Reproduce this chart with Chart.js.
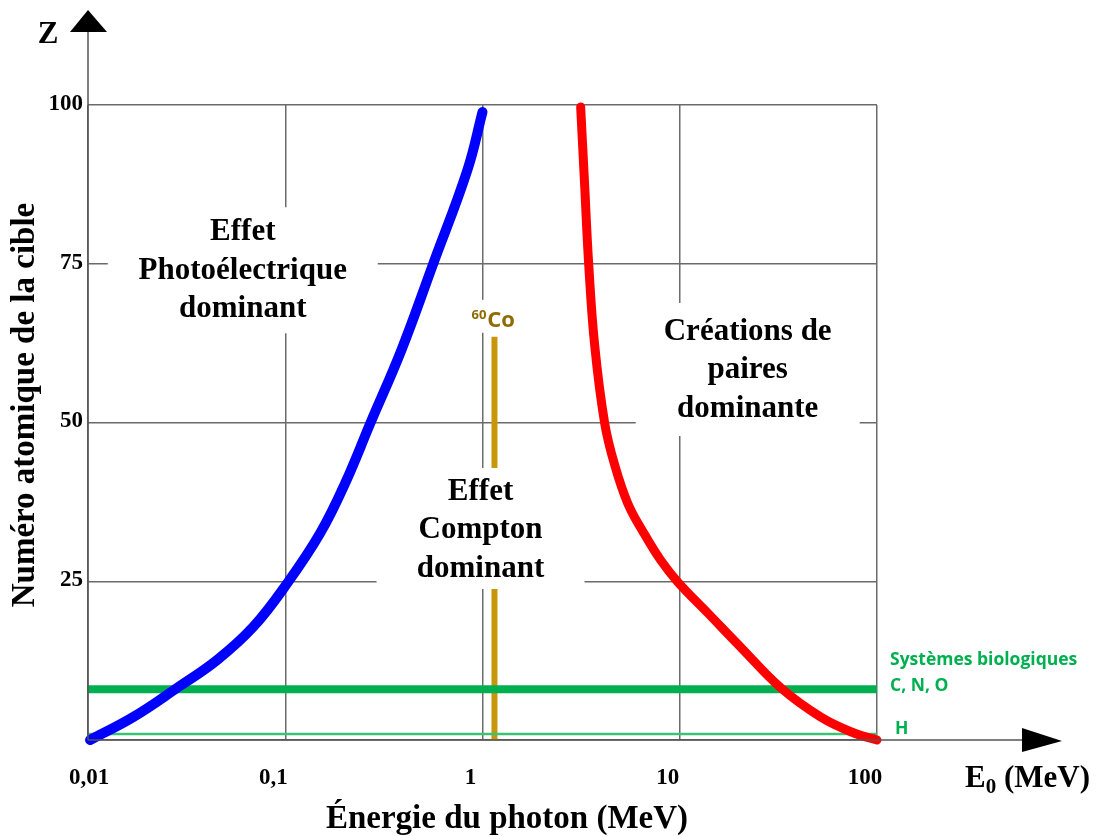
<!DOCTYPE html>
<html lang="fr">
<head>
<meta charset="utf-8">
<title>Interactions photon-matière</title>
<script src="https://cdn.jsdelivr.net/npm/chart.js@4"></script>
<style>
  html, body { margin: 0; padding: 0; background: #fff; }
  canvas { display: block; }
</style>
</head>
<body>
<canvas id="chart" width="1097" height="836"></canvas>
<script>
// Frontière photoélectrique / Compton (énergie en MeV, Z)
const photoEnergy = [0.01024, 0.01692, 0.0283, 0.04516, 0.0688, 0.1024, 0.1505, 0.2016, 0.2701, 0.388, 0.5641, 0.8393, 1.0];
const photoZ      = [0, 3.6, 8.2, 12.6, 17.8, 24.7, 32.6, 40.5, 49.9, 61.4, 75.1, 89.8, 98.9];

// Frontière Compton / création de paires
const pairEnergy = [3.145, 3.295, 3.452, 3.703, 4.163, 4.679, 5.445, 6.566, 8.009, 9.768, 13.87, 20.4, 32.56, 51.96, 76.4, 100];
const pairZ      = [99.7, 87.4, 75.1, 62.2, 49.9, 43.3, 37.3, 32.6, 28.3, 24.9, 20.0, 14.6, 8.2, 3.6, 1.1, 0];

// Systèmes biologiques
const bioEnergy = [0.01, 100];
const cnoZ = [8, 8];
const hZ = [0.95, 0.95];

// Raie du cobalt 60
const coEnergy = [1.15, 1.15];
const coZ = [0, 63.5];

// Axes
const xTickValues = [0.01, 0.1, 1, 10, 100];
const xTickLabels = ['0,01', '0,1', '1', '10', '100'];
const yTickValues = [25, 50, 75, 100];
const yTickLabels = ['25', '50', '75', '100'];

const SERIF = "'Liberation Serif', 'Times New Roman', serif";
const SANS = "'Open Sans', 'Noto Sans', sans-serif";
const GREEN = '#00b050';

function toPoints(xs, ys) {
  return xs.map((x, i) => ({ x: x, y: ys[i] }));
}

// Zones de texte (centre en énergie, première ligne en Z)
const regionLabels = [
  { lines: ['Effet', 'Photoélectrique', 'dominant'], e: 0.0609, z: 78.7, halfW: 135, top: 33, bottom: 16 },
  { lines: ['Effet', 'Compton', 'dominant'], e: 0.977, z: 37.8, halfW: 104, top: 32, bottom: 12 },
  { lines: ['Créations de', 'paires', 'dominante'], e: 22.1, z: 63.0, halfW: 112, top: 37, bottom: 19 }
];

const annotations = {
  id: 'annotations',
  // boxes go over the grid and the 60Co line, under the curves
  afterDatasetDraw(chart, args) {
    if (args.index !== chart.data.datasets.length - 1) return;
    const ctx = chart.ctx;
    const xs = chart.scales.x, ys = chart.scales.y;
    ctx.save();
    ctx.font = 'bold 31px ' + SERIF;
    ctx.textAlign = 'center';
    ctx.textBaseline = 'alphabetic';
    regionLabels.forEach(lab => {
      const cx = xs.getPixelForValue(lab.e);
      const by = ys.getPixelForValue(lab.z);
      const step = 38.5;
      const last = by + step * (lab.lines.length - 1);
      ctx.fillStyle = '#fff';
      ctx.fillRect(cx - lab.halfW, by - lab.top, lab.halfW * 2, last + lab.bottom - (by - lab.top));
      ctx.fillStyle = '#000';
      lab.lines.forEach((t, i) => ctx.fillText(t, cx, by + step * i));
    });

    // étiquette 60Co
    const cox = xs.getPixelForValue(coEnergy[0]);
    const coy = ys.getPixelForValue(coZ[1]);
    ctx.fillStyle = '#fff';
    ctx.fillRect(cox - 29, coy - 37, 56, 33);
    ctx.fillStyle = '#8f6a00';
    ctx.textAlign = 'left';
    ctx.font = 'bold 13px ' + SANS;
    ctx.fillText('60', cox - 23, coy - 18);
    const w60 = ctx.measureText('60').width;
    ctx.font = 'bold 22px ' + SANS;
    ctx.fillText('Co', cox - 23 + w60 + 1, coy - 10);
    ctx.restore();
  },
  afterDraw(chart) {
    const ctx = chart.ctx;
    const xs = chart.scales.x, ys = chart.scales.y;
    const x0 = xs.getPixelForValue(xTickValues[0]);
    const y0 = ys.getPixelForValue(0);
    ctx.save();

    // axes avec flèches
    ctx.strokeStyle = '#555';
    ctx.lineWidth = 1.5;
    ctx.beginPath();
    ctx.moveTo(x0, y0);
    ctx.lineTo(x0, 32);
    ctx.moveTo(x0, y0);
    ctx.lineTo(1025, y0);
    ctx.stroke();
    ctx.fillStyle = '#000';
    ctx.beginPath();
    ctx.moveTo(x0 - 18, 32);
    ctx.lineTo(x0 + 19, 32);
    ctx.lineTo(x0, 10);
    ctx.closePath();
    ctx.fill();
    ctx.beginPath();
    ctx.moveTo(1022, y0 - 12);
    ctx.lineTo(1022, y0 + 12);
    ctx.lineTo(1062, y0 + 1);
    ctx.closePath();
    ctx.fill();

    // graduations
    ctx.font = 'bold 23px ' + SERIF;
    ctx.textAlign = 'right';
    ctx.textBaseline = 'middle';
    yTickValues.forEach((v, i) => {
      ctx.fillText(yTickLabels[i], x0 - 5, ys.getPixelForValue(v) - 1);
    });
    ctx.textAlign = 'center';
    xTickValues.forEach((v, i) => {
      const off = i === 0 ? 1 : -12;
      ctx.fillText(xTickLabels[i], xs.getPixelForValue(v) + off, 778);
    });

    // titres
    ctx.font = 'bold 33px ' + SERIF;
    ctx.textBaseline = 'alphabetic';
    ctx.fillText('Énergie du photon (MeV)', 507, 828);
    ctx.save();
    ctx.translate(34, 405);
    ctx.rotate(-Math.PI / 2);
    ctx.fillText('Numéro atomique de la cible', 0, 0);
    ctx.restore();

    ctx.font = 'bold 31px ' + SERIF;
    ctx.fillText('Z', 48, 43);

    ctx.textAlign = 'left';
    ctx.fillText('E', 965, 787);
    let ex = 965 + ctx.measureText('E').width;
    ctx.font = 'bold 21px ' + SERIF;
    ctx.fillText('0', ex, 793);
    ex += ctx.measureText('0').width;
    ctx.font = 'bold 31px ' + SERIF;
    ctx.fillText(' (MeV)', ex, 787);

    // systèmes biologiques
    ctx.fillStyle = GREEN;
    ctx.font = 'bold 17.5px ' + SANS;
    ctx.textBaseline = 'middle';
    ctx.fillText('Systèmes biologiques', 890, 660);
    ctx.fillText('C, N, O', 890, 686);
    ctx.fillText('H', 895, 729);
    ctx.restore();
  }
};

new Chart(document.getElementById('chart'), {
  type: 'line',
  data: {
    datasets: [
      {
        label: 'Photoélectrique / Compton',
        data: toPoints(photoEnergy, photoZ),
        borderColor: '#0000ff',
        borderWidth: 10,
        borderCapStyle: 'round',
        borderJoinStyle: 'round',
        tension: 0.4,
        pointRadius: 0,
        clip: false
      },
      {
        label: 'Compton / paires',
        data: toPoints(pairEnergy, pairZ),
        borderColor: '#ff0000',
        borderWidth: 9,
        borderCapStyle: 'round',
        borderJoinStyle: 'round',
        tension: 0.4,
        pointRadius: 0,
        clip: false
      },
      {
        label: 'C, N, O',
        data: toPoints(bioEnergy, cnoZ),
        borderColor: GREEN,
        borderWidth: 8,
        pointRadius: 0,
        clip: false
      },
      {
        label: 'H',
        data: toPoints(bioEnergy, hZ),
        borderColor: '#3cc274',
        borderWidth: 2.5,
        pointRadius: 0,
        clip: false
      },
      {
        label: '60Co',
        data: toPoints(coEnergy, coZ),
        borderColor: '#c8960a',
        borderWidth: 6,
        pointRadius: 0,
        clip: false
      }
    ]
  },
  options: {
    responsive: false,
    devicePixelRatio: 1,
    animation: false,
    layout: { padding: { left: 88, right: 220, top: 105, bottom: 96 } },
    plugins: {
      legend: { display: false },
      tooltip: { enabled: false }
    },
    scales: {
      x: {
        type: 'logarithmic',
        min: 0.01,
        max: 100,
        afterBuildTicks: s => { s.ticks = xTickValues.map(v => ({ value: v })); },
        ticks: { display: false },
        grid: { color: '#6b6b6b', lineWidth: 1.5, drawTicks: false },
        border: { display: false }
      },
      y: {
        type: 'linear',
        min: 0,
        max: 100,
        afterBuildTicks: s => { s.ticks = [0].concat(yTickValues).map(v => ({ value: v })); },
        ticks: { display: false },
        grid: { color: '#6b6b6b', lineWidth: 1.5, drawTicks: false },
        border: { display: false }
      }
    }
  },
  plugins: [annotations]
});
</script>
</body>
</html>
